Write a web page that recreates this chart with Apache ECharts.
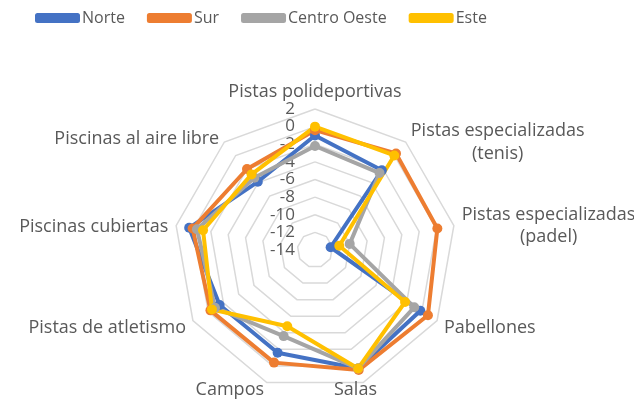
<!DOCTYPE html>
<html>
<head>
<meta charset="utf-8">
<script src="https://cdn.jsdelivr.net/npm/echarts@6/dist/echarts.min.js"></script>
<style>
  html, body { margin: 0; padding: 0; background: #fff; }
  #chart { width: 634px; height: 399px; }
</style>
</head>
<body>
<div id="chart"></div>
<script>
// indicadores del radar (en sentido horario desde arriba)
var indicadores = ['Pistas polideportivas', 'Pistas especializadas\n(tenis)', 'Pistas especializadas\n(padel)',
    'Pabellones', 'Salas', 'Campos', 'Pistas de atletismo', 'Piscinas cubiertas', 'Piscinas al aire libre'];
var zonas = ['Norte', 'Sur', 'Centro Oeste', 'Este'];
var norte = [-1.0, -2.2, -12.2, -0.2, 0.3, -1.6, -1.5, 0.5, -3.9];
var sur = [-0.4, 0.3, 0.1, 0.8, 0.5, -0.4, -0.3, 0.1, -2.0];
var centroOeste = [-2.2, -2.6, -10.0, -1.0, 0.3, -3.6, -0.9, -0.4, -3.3];
var este = [0.0, 0.0, -11.2, -2.2, 0.3, -4.8, -0.5, -1.1, -2.8];
var escalaMin = -14;
var escalaMax = 2;
var paso = 2;

var colores = ['#4472C4', '#ED7D31', '#A5A5A5', '#FFC000'];
var valores = [norte, sur, centroOeste, este];
var fuente = 'Open Sans';
var gris = '#595959';

// echarts dibuja el radar en sentido antihorario: se invierte el orden (menos el primero)
function horario(arr) {
    return [arr[0]].concat(arr.slice(1).reverse());
}

// estilos de cada linea del nombre (ajuste fino de posicion)
function estilosNombre(n) {
    if (n.indexOf('(tenis)') >= 0) return ['t', 'u'];
    if (n === 'Salas') return ['s'];
    if (n === 'Campos') return ['c'];
    return ['a', 'c'];
}

var chartDom = document.getElementById('chart');
var myChart = echarts.init(chartDom);

var series = zonas.map(function (nombre, k) {
    return {
        name: nombre,
        type: 'radar',
        symbol: 'circle',
        symbolSize: 10,
        itemStyle: { color: colores[k] },
        lineStyle: { color: colores[k], width: 4 },
        data: [{ value: horario(valores[k]), name: nombre }]
    };
});
// serie vacia para que el eje polar dibuje las etiquetas
series.push({ type: 'scatter', coordinateSystem: 'polar', data: [], silent: true });

var txt = { align: 'center', color: gris, fontSize: 18, fontFamily: fuente, lineHeight: 25 };

var option = {
    animation: false,
    textStyle: { fontFamily: fuente },
    legend: {
        left: 30,
        top: 5,
        itemWidth: 45,
        itemHeight: 10,
        itemGap: 22,
        textStyle: { color: gris, fontSize: 16, fontFamily: fuente, padding: [0, 0, 0, -3] },
        data: zonas
    },
    radar: {
        center: [315, 250],
        radius: 141,
        startAngle: 90,
        splitNumber: (escalaMax - escalaMin) / paso,
        shape: 'polygon',
        indicator: horario(indicadores).map(function (n) {
            return { name: n, min: escalaMin, max: escalaMax };
        }),
        axisName: {
            color: gris,
            fontSize: 18,
            fontFamily: fuente,
            formatter: function (v) {
                var st = estilosNombre(v);
                return v.split('\n').map(function (l, i) {
                    return '{' + st[i] + '|' + l + '}';
                }).join('\n');
            },
            rich: {
                a: Object.assign({}, txt, { padding: [6, 0, 0, 0] }),
                t: Object.assign({}, txt, { padding: [16, 0, 0, 0] }),
                u: Object.assign({}, txt, { padding: [11, 0, 0, 0] }),
                s: Object.assign({}, txt, { align: 'left', padding: [0, 0, 0, -32] }),
                c: txt
            }
        },
        nameGap: 8,
        axisLine: { show: false },
        splitLine: { lineStyle: { color: '#D9D9D9', width: 1.5 } },
        splitArea: { show: false },
        axisTick: { show: false },
        axisLabel: { show: false }
    },
    polar: { center: [315, 250], radius: 141 },
    angleAxis: { show: false, startAngle: 90, min: 0, max: 360 },
    radiusAxis: {
        min: escalaMin,
        max: escalaMax,
        interval: paso,
        axisLine: { show: false },
        axisTick: { show: false },
        splitLine: { show: false },
        axisLabel: {
            show: true, showMinLabel: true, showMaxLabel: true, interval: 0, hideOverlap: false,
            color: gris, fontSize: 17, lineHeight: 1, fontFamily: fuente, align: 'right', margin: 20,
            padding: [16, 0, 0, 0]
        }
    },
    series: series
};
option && myChart.setOption(option);
</script>
</body>
</html>
